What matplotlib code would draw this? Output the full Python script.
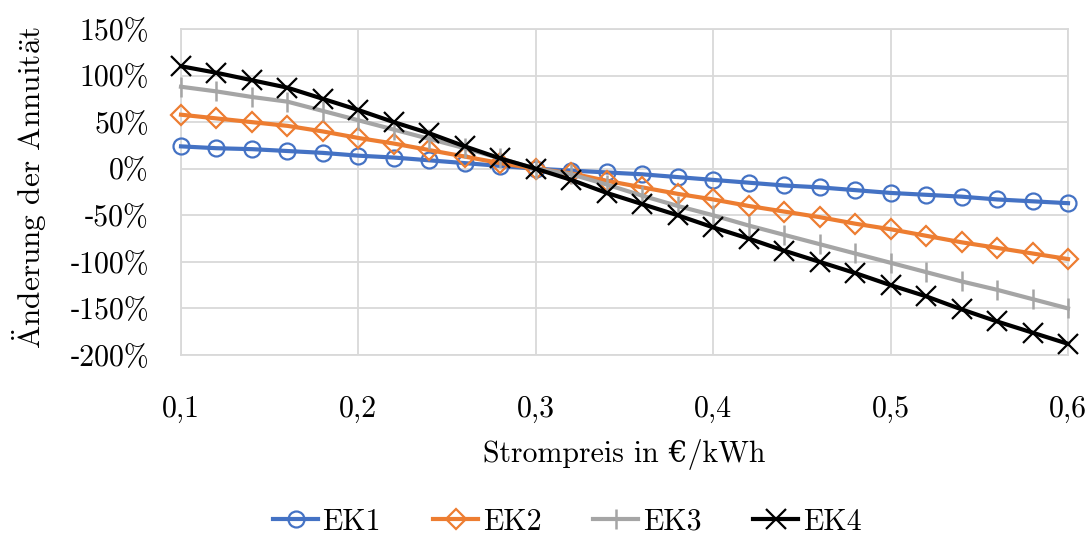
import numpy as np
import matplotlib
matplotlib.use('Agg')
import matplotlib.pyplot as plt

plt.rcParams['font.family'] = ['cmr10', 'DejaVu Serif']
plt.rcParams['mathtext.fontset'] = 'cm'
plt.rcParams['axes.unicode_minus'] = False

# Strompreis in EUR/kWh
strompreis = [0.10, 0.12, 0.14, 0.16, 0.18, 0.20, 0.22, 0.24, 0.26, 0.28, 0.30,
              0.32, 0.34, 0.36, 0.38, 0.40, 0.42, 0.44, 0.46, 0.48, 0.50,
              0.52, 0.54, 0.56, 0.58, 0.60]

# Aenderung der Annuitaet in %
ek1 = [24, 22, 21, 19, 17, 14, 12, 9, 6, 3, 0,
       -2, -4, -6, -9, -12, -15, -18, -20, -23, -26, -28, -30, -33, -35, -37]
ek2 = [58, 54, 50, 46, 40, 33, 27, 20, 13, 6, 0,
       -5, -13, -20, -27, -33, -40, -46, -52, -59, -65, -72, -79, -85, -91, -97]
ek3 = [88, 83, 77, 72, 62, 52, 42, 32, 22, 11, 0,
       -6, -17, -29, -40, -50, -61, -71, -81, -91, -101, -111, -121, -130, -140, -150]
ek4 = [110, 103, 95, 87, 75, 63, 50, 38, 24, 11, 0,
       -12, -26, -38, -50, -63, -75, -88, -100, -112, -125, -137, -151, -164, -176, -188]

x_ticks = [0.1, 0.2, 0.3, 0.4, 0.5, 0.6]
x_labels = ['0,1', '0,2', '0,3', '0,4', '0,5', '0,6']
y_ticks = [150, 100, 50, 0, -50, -100, -150, -200]
y_labels = ['150%', '100%', '50%', '0%', '\u201050%', '\u2010100%', '\u2010150%', '\u2010200%']

fs = 21.5

fig = plt.figure(figsize=(10.91, 5.35), dpi=100)
ax = fig.add_axes([181 / 1091, 1 - 355 / 535, 887 / 1091, 326 / 535])

lw = 3
ax.plot(strompreis, ek1, color='#4472C4', lw=lw, marker='o', ms=11.5,
        mfc='none', mec='#4472C4', mew=1.6, label='EK1', clip_on=False, zorder=3)
ax.plot(strompreis, ek2, color='#ED7D31', lw=lw, marker='D', ms=10,
        mfc='none', mec='#ED7D31', mew=1.6, label='EK2', clip_on=False, zorder=4)
ax.plot(strompreis, ek3, color='#A5A5A5', lw=lw, marker='|', ms=15,
        mec='#A5A5A5', mew=1.8, label='EK3', clip_on=False, zorder=5)
ax.plot(strompreis, ek4, color='black', lw=lw, marker='x', ms=14,
        mec='black', mew=1.6, label='EK4', clip_on=False, zorder=6)

ax.set_xlim(0.1, 0.6)
ax.set_ylim(-200, 150)
ax.set_xticks(x_ticks)
ax.set_xticklabels(x_labels)
ax.set_yticks(y_ticks)
ax.set_yticklabels(y_labels)
ax.tick_params(axis='both', length=0, labelsize=fs)
ax.tick_params(axis='x', pad=29)
ax.tick_params(axis='y', pad=23)
ax.grid(True, color='#d9d9d9', lw=1.3)
for s in ax.spines.values():
    s.set_color('#d9d9d9')
    s.set_linewidth(1.3)

fig.text(30 / 1091, 1 - 187 / 535, r'$\ddot{\mathrm{A}}$nderung der Annuit$\ddot{\mathrm{a}}$t',
         rotation=90, ha='center', va='center', fontsize=22.5)
fig.text(624.5 / 1091, 1 - 455 / 535, 'Strompreis in €/kWh',
         ha='center', va='center', fontsize=fs)

fig.legend(loc='center', bbox_to_anchor=(0.52, 1 - 522 / 535), ncol=4,
           frameon=False, fontsize=fs, handlelength=1.5, columnspacing=1.75,
           handletextpad=0.15)

fig.savefig('out.png', dpi=100)
